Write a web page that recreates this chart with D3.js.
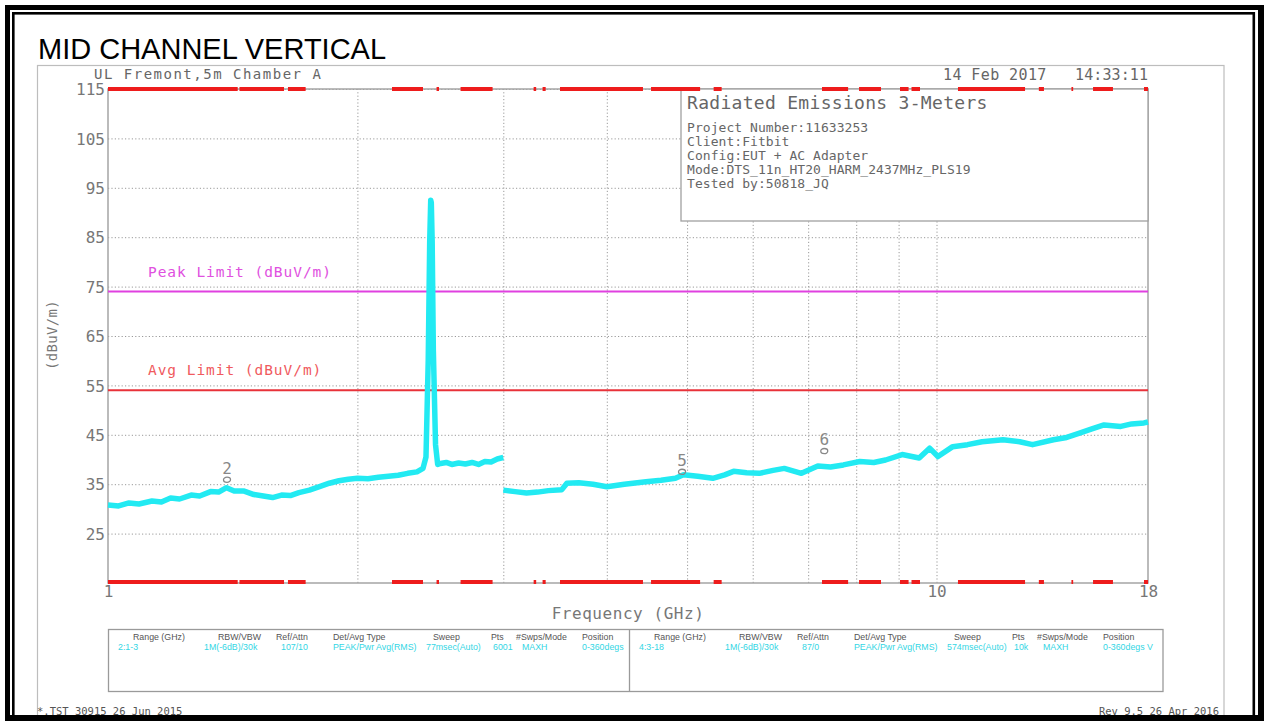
<!DOCTYPE html>
<html><head><meta charset="utf-8">
<script src="https://cdn.jsdelivr.net/npm/d3@7"></script>
<style>body{margin:0;background:#fff;overflow:hidden}svg{display:block}</style>
</head><body>
<svg id="c" width="1264" height="721"></svg>
<script>
// ---------- data ----------
const yTickValues = [25, 35, 45, 55, 65, 75, 85, 95, 105, 115];
const xGridValues = [2, 3, 4, 5, 6, 7, 8, 9, 10];
const xTickValues = [1, 10, 18];
const xTickLabels = ["1", "10", "18"];

// sweep range 1 (1-3 GHz)
const range1Freq = [1.00,1.03,1.06,1.09,1.13,1.16,1.19,1.22,1.26,1.29,1.33,1.36,1.39,1.42,1.46,1.50,1.54,1.58,1.62,1.66,1.70,1.75,1.80,1.85,1.90,1.95,2.00,2.06,2.12,2.18,2.24,2.30,2.36,2.40,2.42,2.435,2.445,2.452,2.456,2.462,2.47,2.485,2.50,2.52,2.56,2.60,2.65,2.70,2.75,2.80,2.85,2.90,2.95,3.00];
const range1Level = [30.8,30.6,31.2,31.0,31.6,31.4,32.2,32.0,32.8,32.6,33.5,33.4,34.3,33.6,33.6,32.9,32.6,32.3,32.8,32.7,33.3,33.8,34.5,35.2,35.7,36.0,36.2,36.1,36.4,36.6,36.8,37.2,37.5,38.2,40.5,60,84,92.5,92,84,62,43,39.0,39.2,39.4,39.0,39.3,39.1,39.4,39.0,39.6,39.5,40.1,40.4];
// sweep range 4 (3-18 GHz)
const range4Freq = [3.00,3.10,3.20,3.30,3.40,3.53,3.58,3.70,3.85,4.00,4.20,4.46,4.65,4.84,4.95,5.15,5.37,5.55,5.69,5.90,6.11,6.35,6.55,6.87,7.19,7.45,7.72,8.08,8.40,8.68,9.09,9.53,9.81,10.04,10.46,10.9,11.35,12.03,12.6,13.06,13.84,14.3,14.85,15.4,15.93,16.69,17.2,17.8,18.0];
const range4Level = [33.8,33.5,33.2,33.4,33.7,33.9,35.2,35.3,35.0,34.5,35.0,35.5,35.8,36.2,36.9,36.6,36.2,36.9,37.6,37.3,37.2,37.8,38.2,37.2,38.7,38.5,38.9,39.6,39.4,39.9,41.0,40.3,42.3,40.6,42.6,43.0,43.6,44.0,43.6,43.0,44.0,44.4,45.3,46.2,47.0,46.7,47.2,47.4,47.6];

const peakLimit = 74;
const avgLimit = 54;

// sweep-status bars (GHz)
const barStart = [1.00,1.441,1.649,2.202,2.492,2.664,3.264,3.346,3.512,4.523,5.383,7.274,8.063,9.035,9.329,10.615,13.29,14.55,15.45,17.8];
const barEnd   = [1.434,1.631,1.732,2.400,2.509,2.912,3.287,3.375,4.423,5.184,5.504,7.822,8.57,9.253,9.552,12.79,13.48,14.62,16.33,18.0];

// markers
const markerIds = ["2", "5", "6"];
const markerFreq = [1.392, 4.93, 7.32];
const markerLevel = [35.9, 37.5, 41.7];

// info box
const infoTitle = "Radiated Emissions 3-Meters";
const infoLines = ["Project Number:11633253", "Client:Fitbit", "Config:EUT + AC Adapter", "Mode:DTS_11n_HT20_HARM_2437MHz_PLS19", "Tested by:50818_JQ"];

// table
const tableHeaders = ["Range (GHz)", "RBW/VBW", "Ref/Attn", "Det/Avg Type", "Sweep", "Pts", "#Swps/Mode", "Position"];
const tableValues1 = ["2:1-3", "1M(-6dB)/30k", "107/10", "PEAK/Pwr Avg(RMS)", "77msec(Auto)", "6001", "MAXH", "0-360degs"];
const tableValues2 = ["4:3-18", "1M(-6dB)/30k", "87/0", "PEAK/Pwr Avg(RMS)", "574msec(Auto)", "10k", "MAXH", "0-360degs V"];

// ---------- drawing ----------
const svg = d3.select("#c");
const mono = "'DejaVu Sans Mono', 'Liberation Mono', monospace";
const x = d3.scaleLog().domain([1, 18]).range([108, 1148]);
const y = d3.scaleLinear().domain([15, 115]).range([583, 89]);

// page frame
svg.append("rect").attr("x", 0).attr("y", 0).attr("width", 1264).attr("height", 721).attr("fill", "#fff");
svg.append("rect").attr("x", 37.5).attr("y", 65.5).attr("width", 1186.5).attr("height", 700)
  .attr("fill", "none").attr("stroke", "#bdbdbd").attr("stroke-width", 1.2);

// title
svg.append("text").attr("x", 38).attr("y", 59).text("MID CHANNEL VERTICAL")
  .attr("font-family", "'Liberation Sans', Arial, sans-serif").attr("font-size", 29).attr("fill", "#000");

// header texts
function monoText(tx, ty, s, size, ls, color, anchor) {
  return svg.append("text").attr("x", tx).attr("y", ty).text(s)
    .attr("font-family", mono).attr("font-size", size).attr("letter-spacing", ls)
    .attr("fill", color).attr("text-anchor", anchor || "start");
}
monoText(94, 79, "UL Fremont,5m Chamber A", 14, 1.5, "#666");
monoText(943, 80, "14 Feb 2017", 15, 0.4, "#666");
monoText(1075, 80, "14:33:11", 15, 0.1, "#666");

// grid via axes
const gy = svg.append("g").attr("transform", "translate(108,0)")
  .call(d3.axisLeft(y).tickValues(yTickValues).tickSize(-(1148 - 108)).tickPadding(3).tickFormat(d3.format("d")));
gy.select(".domain").remove();
gy.selectAll("line").attr("stroke", "#9a9a9a").attr("stroke-dasharray", "1.2,2.2").attr("stroke-width", 1);
gy.selectAll("text").attr("font-family", mono).attr("font-size", 16).attr("fill", "#777").attr("dy", "0.36em");

const gx = svg.append("g").attr("transform", "translate(0,583)")
  .call(d3.axisBottom(x).tickValues(xGridValues).tickSize(-(583 - 89)).tickFormat(""));
gx.select(".domain").remove();
gx.selectAll("line").attr("stroke", "#9a9a9a").attr("stroke-dasharray", "1.2,2.2").attr("stroke-width", 1);

const gxl = svg.append("g").attr("transform", "translate(0,583)")
  .call(d3.axisBottom(x).tickValues(xTickValues).tickSize(0).tickPadding(3)
    .tickFormat((d, i) => xTickLabels[i]));
gxl.select(".domain").remove();
gxl.selectAll("text").attr("font-family", mono).attr("font-size", 16).attr("fill", "#777");

// plot frame
svg.append("rect").attr("x", 108).attr("y", 89).attr("width", 1040).attr("height", 494)
  .attr("fill", "none").attr("stroke", "#a5a5a5").attr("stroke-width", 1.5);

// info box
svg.append("rect").attr("x", 681).attr("y", 89).attr("width", 1148 - 681).attr("height", 132)
  .attr("fill", "#fff").attr("stroke", "#a0a0a0").attr("stroke-width", 1.3);
monoText(687, 109, infoTitle, 18, 0.3, "#666");
infoLines.forEach((s, i) => monoText(687, 132 + i * 14, s, 13, 0.05, "#666"));

// limit lines
svg.append("line").attr("x1", x(1)).attr("x2", x(18)).attr("y1", y(peakLimit)).attr("y2", y(peakLimit))
  .attr("stroke", "#e040e0").attr("stroke-width", 2);
svg.append("line").attr("x1", x(1)).attr("x2", x(18)).attr("y1", y(avgLimit)).attr("y2", y(avgLimit))
  .attr("stroke", "#e8323a").attr("stroke-width", 2);
monoText(148, 277, "Peak Limit (dBuV/m)", 14.5, 0.95, "#e050e0");
monoText(148, 375, "Avg Limit (dBuV/m)", 14.5, 0.95, "#f05a5e");

// y label
svg.append("text").attr("transform", "translate(57,335) rotate(-90)").attr("text-anchor", "middle")
  .text("(dBuV/m)").attr("font-family", mono).attr("font-size", 14).attr("letter-spacing", 0.3).attr("fill", "#777");
// x label
monoText(628, 619, "Frequency (GHz)", 16, 0.55, "#777", "middle");

// traces
const line = d3.line().x(d => x(d[0])).y(d => y(d[1]));
const traces = [d3.zip(range1Freq, range1Level), d3.zip(range4Freq, range4Level)];
svg.append("g").selectAll("path").data(traces).join("path")
  .attr("d", line).attr("fill", "none").attr("stroke", "#22eaf2")
  .attr("stroke-width", 5.5).attr("stroke-linejoin", "round").attr("stroke-linecap", "butt");

// markers
const mk = svg.append("g").selectAll("g").data(d3.range(markerIds.length)).join("g")
  .attr("transform", i => `translate(${x(markerFreq[i])},${y(markerLevel[i])})`);
mk.append("ellipse").attr("rx", 3.5).attr("ry", 2.6).attr("fill", "none").attr("stroke", "#888").attr("stroke-width", 1.3);
mk.append("text").attr("y", -6).attr("text-anchor", "middle").text(i => markerIds[i])
  .attr("font-family", mono).attr("font-size", 16).attr("fill", "#888");

// sweep status bars (top and bottom)
const bars = d3.zip(barStart, barEnd);
[89, 582].forEach(yy => {
  svg.append("g").selectAll("line").data(bars).join("line")
    .attr("x1", d => x(d[0])).attr("x2", d => x(d[1])).attr("y1", yy).attr("y2", yy)
    .attr("stroke", "#ee1c1c").attr("stroke-width", 4);
});

// settings table
svg.append("rect").attr("x", 108.5).attr("y", 629.5).attr("width", 1163 - 108.5).attr("height", 62)
  .attr("fill", "#fff").attr("stroke", "#9a9a9a").attr("stroke-width", 1.3);
svg.append("line").attr("x1", 629.5).attr("x2", 629.5).attr("y1", 629.5).attr("y2", 691.5)
  .attr("stroke", "#9a9a9a").attr("stroke-width", 1.3);
const headerOffsets = [25, 110, 168, 225, 325, 383, 408, 474];
const valueOffsets = [10, 96, 173, 225, 318, 385, 414, 474];
const sans = "'Liberation Sans', Arial, sans-serif";
[[108, tableValues1], [629, tableValues2]].forEach(([bx, vals]) => {
  tableHeaders.forEach((h, i) => svg.append("text").attr("x", bx + headerOffsets[i]).attr("y", 640)
    .text(h).attr("font-family", sans).attr("font-size", 8.8).attr("fill", "#555"));
  vals.forEach((v, i) => svg.append("text").attr("x", bx + valueOffsets[i]).attr("y", 650)
    .text(v).attr("font-family", sans).attr("font-size", 8.8).attr("fill", "#33d6e4"));
});

// footer
monoText(37, 715, "*.TST 30915 26 Jun 2015", 10.5, 0, "#555");
monoText(1219, 715, "Rev 9.5 26 Apr 2016", 10.5, 0, "#555", "end");

// black borders
const blk = [[5, 5, 1259, 5], [5, 5, 5, 716], [1258, 5, 6, 716], [5, 715, 1259, 6],
             [12, 12, 1243, 2.6], [12, 12, 2.6, 709], [1252.5, 12, 2.6, 709]];
svg.append("g").selectAll("rect").data(blk).join("rect")
  .attr("x", d => d[0]).attr("y", d => d[1]).attr("width", d => d[2]).attr("height", d => d[3]).attr("fill", "#000");
</script>
</body></html>
